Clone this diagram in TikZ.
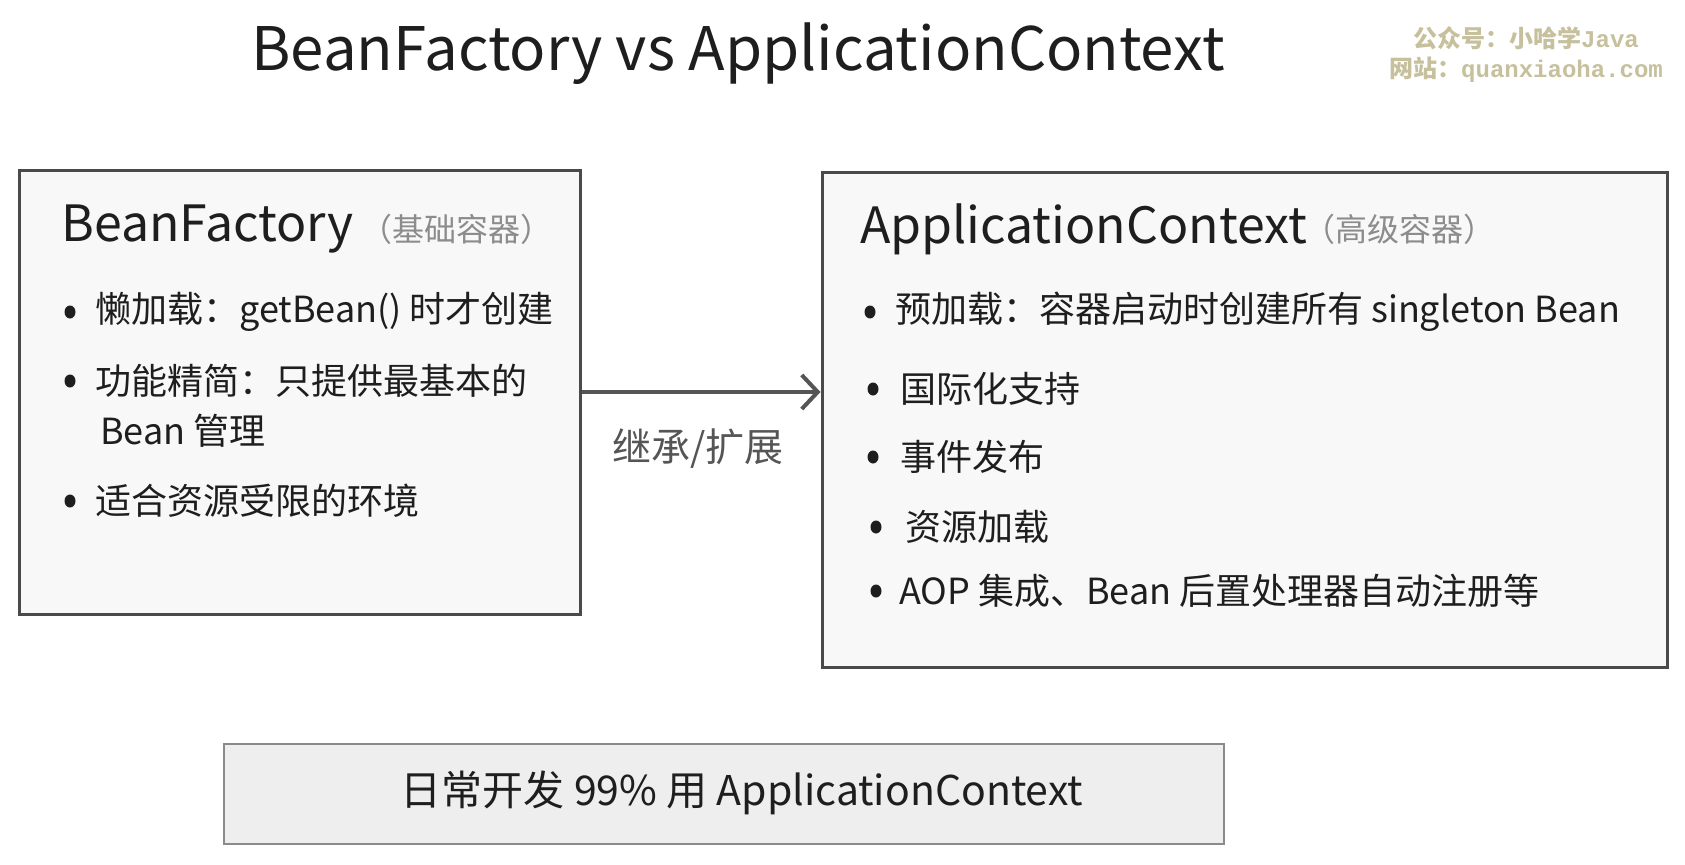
\documentclass[tikz,border=0pt]{standalone}
\usepackage{fontspec}
\setmainfont{Noto Sans CJK SC}
\newfontfamily\wmlatin{Liberation Mono}
\usetikzlibrary{arrows.meta}
\definecolor{ink}{HTML}{1E1E1E}
\definecolor{frame}{HTML}{4A4A4A}
\definecolor{boxfill}{HTML}{F8F8F8}
\definecolor{notefill}{HTML}{EEEEEE}
\definecolor{notedraw}{HTML}{8A8A8A}
\definecolor{subgray}{HTML}{8C8C8C}
\definecolor{arrowgray}{HTML}{555555}
\definecolor{wmcol}{HTML}{C6C09C}
\tikzset{
  panel/.style={draw=frame, line width=3pt, fill=boxfill},
  notebox/.style={draw=notedraw, line width=2pt, fill=notefill},
  head/.style={anchor=west, inner sep=0pt, text=ink, font=\fontsize{50}{56}\selectfont},
  sub/.style={anchor=west, inner sep=0pt, text=subgray, font=\fontsize{32}{36}\selectfont},
  item/.style={anchor=west, inner sep=0pt, text=ink, font=\fontsize{36}{42}\selectfont},
  dot/.style={ellipse, fill=ink, inner sep=0pt, minimum width=11pt, minimum height=13pt},
  link/.style={draw=arrowgray, line width=4pt, -{Straight Barb[length=16pt,width=34pt,line width=4pt]}},
  wm/.style={anchor=center, inner sep=0pt, text=wmcol, font=\bfseries\fontsize{24}{28}\selectfont}
}
\usetikzlibrary{shapes.geometric}
\begin{document}
\begin{tikzpicture}[x=1pt,y=-1pt]
\useasboundingbox (0,0) rectangle (1685,864);
\fill[white] (0,0) rectangle (1685,864);
% title
\node[inner sep=0pt, text=ink, font=\fontsize{60}{66}\selectfont] (title) at (738,54) {BeanFactory vs ApplicationContext};
% watermark
\node[wm] (wm1) at (1526,38) {公众号：小哈学{\wmlatin Java}};
\node[wm] (wm2) at (1526,70) {网站：{\wmlatin quanxiaoha.com}};
% panels
\node[panel, minimum width=561pt, minimum height=444pt, inner sep=0pt] (bf) at (299.5,392) {};
\node[panel, minimum width=845pt, minimum height=495pt, inner sep=0pt] (ac) at (1244.5,419.5) {};
% left contents
\node[head] (bft) at (61,229) {BeanFactory};
\node[sub] (bfs) at (360,229) {（基础容器）};
\node[dot] (d1) at (70,312) {};
\node[item] (b1) at (95,312) {懒加载：getBean() 时才创建};
\node[dot] (d2) at (70,381) {};
\node[item] (b2) at (95,381) {功能精简：只提供最基本的};
\node[item] (b2b) at (100,431) {Bean 管理};
\node[dot] (d3) at (70,501) {};
\node[item] (b3) at (95,501) {适合资源受限的环境};
% right contents
\node[head] (act) at (860,229) {ApplicationContext};
\node[sub] (acs) at (1303,229) {（高级容器）};
\node[dot] (e1) at (870,312) {};
\node[item] (a1) at (895,312) {预加载：容器启动时创建所有 singleton Bean};
\node[dot] (e2) at (873,389) {};
\node[item] (a2) at (900,389) {国际化支持};
\node[dot] (e3) at (873,457) {};
\node[item] (a3) at (900,457) {事件发布};
\node[dot] (e4) at (876,527) {};
\node[item] (a4) at (905,527) {资源加载};
\node[dot] (e5) at (876,591) {};
\node[item] (a5) at (899,591) {AOP 集成、Bean 后置处理器自动注册等};
% arrow
\draw[link] (bf.east) -- (bf.east -| ac.west);
\node[inner sep=0pt, text=arrowgray, font=\fontsize{39}{44}\selectfont] (lbl) at (698,449) {继承/扩展};
% bottom note
\node[notebox, minimum width=1000pt, minimum height=100pt, inner sep=0pt] (note) at (724,794) {};
\node[inner sep=0pt, text=ink, font=\fontsize{41}{46}\selectfont] (notet) at (742,793) {日常开发 99\% 用 ApplicationContext};
\end{tikzpicture}
\end{document}
